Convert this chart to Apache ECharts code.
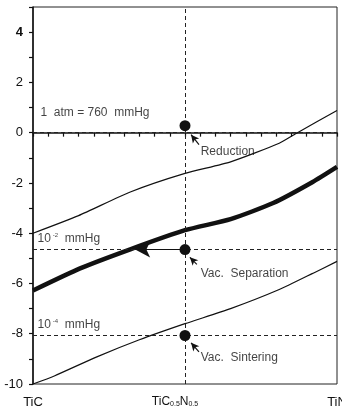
<!DOCTYPE html>
<html>
<head>
<meta charset="utf-8">
<script src="https://cdn.jsdelivr.net/npm/echarts@6/dist/echarts.min.js"></script>
<style>
  html, body { margin: 0; padding: 0; background: #fff; }
  #chart { width: 342px; height: 415px; }
</style>
</head>
<body>
<div id="chart"></div>
<script>
// composition axis: 0 = TiC, 0.5 = TiC0.5N0.5, 1 = TiN
const xLabelPos = [0, 0.5, 1];
const xLabelText = ['TiC', '{n|TiC}{s|0.5}{n|N}{s2|0.5}', 'TiN'];

// equilibrium curves (log p)
const upperLine = [[0, -4.0], [0.15, -3.3], [0.32, -2.36], [0.5, -1.62], [0.65, -1.16], [0.81, -0.42], [0.87, 0], [1, 0.88]];
const thickLine = [[0, -6.28], [0.155, -5.4], [0.32, -4.64], [0.5, -3.88], [0.65, -3.44], [0.79, -2.8], [0.92, -1.96], [1, -1.36]];
const lowerLine = [[0, -10], [0.07, -9.68], [0.21, -8.92], [0.35, -8.24], [0.5, -7.6], [0.65, -7.0], [0.81, -6.24], [0.92, -5.6], [1, -5.12]];

// pressure levels and process points
const levelY = [0, -4.65, -8.07];
const levelText = ['1  atm = 760  mmHg', '{t|10}{sup|-2}{t|  mmHg}', '{t|10}{sup|-4}{t|  mmHg}'];
const processX = 0.5;
const processY = [0.28, -4.65, -8.07];
const processText = ['Reduction', 'Vac.  Separation', 'Vac.  Sintering'];

const font = "'Liberation Sans', Arial, sans-serif";
const ink = '#111';

const chart = echarts.init(document.getElementById('chart'));

const curve = (data, w) => ({
  type: 'line',
  data: data,
  showSymbol: false,
  smooth: 0.2,
  silent: true,
  lineStyle: { color: ink, width: w },
  z: 3
});

// label anchors (left edge of text, vertical centre)
const levelAnchors = [[0.023, 0.78], [0.013, -4.22], [0.013, -7.64]];
const processAnchors = [[0.55, -0.76], [0.55, -5.6], [0.55, -8.95]];
const smallArrows = [
  [[0.546, -0.48], [0.52, -0.08]],
  [[0.539, -5.24], [0.516, -4.96]],
  [[0.546, -8.72], [0.52, -8.36]]
];

const textRich = {
  t: { fontSize: 12, color: ink, fontFamily: font },
  sup: { fontSize: 6, color: ink, fontFamily: font, verticalAlign: 'top', padding: [0, 0, 0, 2] }
};

const option = {
  animation: false,
  grid: {
    left: 33, right: 5, top: 7, bottom: 31,
    show: true, borderColor: '#222', borderWidth: 1,
    outerBoundsMode: 'none'
  },
  xAxis: {
    type: 'value',
    min: 0, max: 1, interval: 0.05,
    axisLine: { show: true, lineStyle: { color: ink, width: 1.5 } },
    axisTick: { show: true, length: 4, lineStyle: { color: ink, width: 1.2 } },
    splitLine: { show: false },
    axisLabel: {
      margin: 12,
      color: ink,
      fontSize: 13,
      fontFamily: font,
      showMinLabel: true,
      showMaxLabel: true,
      formatter: (v) => {
        const i = xLabelPos.findIndex(p => Math.abs(p - v) < 1e-6);
        return i < 0 ? '' : xLabelText[i];
      },
      rich: {
        n: { fontSize: 12, color: ink, fontFamily: font },
        s: { fontSize: 7, color: ink, fontFamily: font, verticalAlign: 'bottom' },
        s2: { fontSize: 7, color: ink, fontFamily: font, verticalAlign: 'bottom', padding: [0, 20, 0, 0] }
      }
    }
  },
  yAxis: {
    type: 'value',
    min: -10, max: 5, interval: 1,
    axisLine: { show: true, lineStyle: { color: ink, width: 1.5 } },
    axisTick: { show: true, length: 4, lineStyle: { color: ink, width: 1.2 } },
    splitLine: { show: false },
    axisLabel: {
      margin: 10,
      color: ink,
      fontSize: 13,
      fontFamily: font,
      formatter: (v) => (v % 2 === 0 ? (v === 4 ? '{b|4}' : String(v)) : ''),
      rich: { b: { fontSize: 13, fontWeight: 'bold', color: ink, fontFamily: font } }
    }
  },
  series: [
    curve(upperLine, 1.2),
    curve(thickLine, 4.5),
    curve(lowerLine, 1.2),
    {
      // dashed guide lines
      type: 'line',
      data: [],
      silent: true,
      markLine: {
        silent: true,
        symbol: 'none',
        label: { show: false },
        lineStyle: { color: '#222', width: 1, type: [4, 3] },
        data: levelY.map(y => ({ yAxis: y })).concat([{ xAxis: processX }])
      }
    },
    {
      // process points
      type: 'scatter',
      data: processY.map(y => [processX, y]),
      symbolSize: 11,
      itemStyle: { color: ink, opacity: 1 },
      silent: true,
      z: 5,
      markLine: {
        silent: true,
        label: { show: false },
        lineStyle: { color: ink, width: 1.2, type: 'solid', opacity: 1 },
        data: [
          [
            { coord: [processX, processY[1]], symbol: 'none' },
            { coord: [0.336, processY[1]], symbol: 'arrow', symbolSize: [12, 15] }
          ]
        ].concat(smallArrows.map(a => [
          { coord: a[0], symbol: 'none' },
          { coord: a[1], symbol: 'arrow', symbolSize: [6, 8] }
        ]))
      }
    },
    {
      // level labels
      type: 'scatter',
      data: levelText.map((t, i) => ({ value: levelAnchors[i], name: t })),
      symbolSize: 1,
      itemStyle: { color: 'transparent' },
      silent: true,
      label: {
        show: true, position: 'right', distance: 0,
        formatter: (p) => (p.dataIndex === 0 ? '{t|' + p.name + '}' : p.name),
        rich: textRich
      }
    },
    {
      // process labels
      type: 'scatter',
      data: processText.map((t, i) => ({ value: processAnchors[i], name: t })),
      symbolSize: 1,
      itemStyle: { color: 'transparent' },
      silent: true,
      label: {
        show: true, position: 'right', distance: 0,
        formatter: (p) => '{t|' + p.name + '}',
        rich: textRich
      }
    }
  ]
};

chart.setOption(option);
</script>
</body>
</html>
